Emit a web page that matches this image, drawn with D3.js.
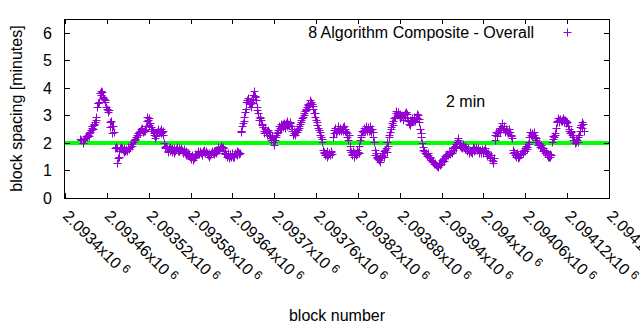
<!DOCTYPE html>
<html><head><meta charset="utf-8">
<script src="https://cdn.jsdelivr.net/npm/d3@7"></script>
<style>body{margin:0;background:#fff}svg{display:block}text{font-family:"Liberation Sans",Arial,sans-serif;fill:#000}</style>
</head><body><svg id="c" width="640" height="330"></svg>
<script>
const blocks = [
2093421,2093426,2093429,2093431,2093433,2093435,2093437,2093439,2093441,2093443,2093445,2093448,2093449,2093450,2093452,2093453,2093454,2093456,2093457,2093459,
2093461,2093462,2093464,2093465,2093467,2093468,2093470,2093472,2093473,2093475,2093476,2093477,2093479,2093481,2093483,2093486,2093488,2093490,2093493,2093496,2093500,
2093502,2093505,2093507,2093510,2093512,2093514,2093516,2093518,2093519,2093522,2093524,2093525,2093527,2093529,2093531,2093534,2093536,2093539,2093540,2093543,2093546,2093548,2093550,2093552,2093555,2093557,2093560,2093562,2093565,
2093567,2093570,2093572,2093575,2093579,2093581,2093584,2093586,2093588,2093590,2093593,2093596,2093598,2093600,2093603,2093605,2093608,2093610,2093612,2093615,2093617,2093620,2093622,2093624,2093627,2093629,2093631,2093634,2093636,2093638,2093641,2093643,2093645,2093648,2093650,
2093652,2093653,2093655,2093656,2093658,2093659,2093660,2093661,2093662,2093664,2093665,2093667,2093669,2093671,2093672,2093673,2093675,2093677,2093679,2093681,2093682,2093684,2093685,2093686,2093688,2093691,2093693,2093696,2093698,2093700,2093702,2093704,2093705,2093708,2093711,
2093713,2093715,2093717,2093720,2093722,2093724,2093726,2093729,2093731,2093734,2093736,2093739,2093741,2093743,2093745,2093748,2093751,2093753,2093755,2093758,2093760,2093762,2093764,2093766,2093767,2093769,2093772,
2093774,2093777,2093779,2093782,2093784,2093786,2093789,2093791,2093794,2093796,2093798,2093801,2093803,2093805,2093808,2093810,2093812,2093815,2093817,2093820,2093822,2093825,2093827,2093829,2093831,2093834,2093836,2093838,2093841,2093843,2093846,2093848,2093850,2093853,2093855,2093858,2093860,2093862,2093864,
2093866,2093867,2093870,2093872,2093875,2093877,2093879,2093882,2093884,2093886,2093889,2093891,2093894,2093896,2093898,2093901,2093903,2093906,2093908,2093910,2093912,2093914,
2093916,2093918,2093920,2093922,2093925,2093927,2093929,2093932,2093934,2093935,2093937,2093940,2093941,2093944,2093946,2093948,2093951,2093953,2093956,2093958,2093960,2093963,2093965,2093968,2093970,2093972,2093975,2093977,2093980,2093982,2093984,2093987,2093989,2093991,2093994,2093996,2093999,2094001,2094003,2094006,2094008,2094010,2094012,2094014,2094015,
2094017,2094020,2094022,2094025,2094027,2094029,2094032,2094034,2094037,2094039,2094041,2094044,2094046,2094049,2094051,2094053,2094056,2094058,2094060,2094063,2094065,2094068,2094070,2094072,2094075,2094077,2094080,2094082,2094084,2094087,2094089,2094091,2094094,2094096,2094098,2094101,2094103,2094106,2094108,2094111,2094113,2094115,2094118,2094120,2094122,2094125,2094127,2094130,2094132,2094134,2094137,2094139,2094141,2094144
];
const spacing = [
2.15,2.0,2.17,2.2,2.29,2.25,2.47,2.6,2.65,2.77,2.93,3.44,3.5,3.81,3.9,3.85,3.68,3.6,3.56,3.3,
3.2,3.14,2.77,2.59,2.62,2.35,2.4,1.81,1.85,1.26,1.44,1.5,1.8,1.78,1.75,1.72,1.75,1.8,1.87,1.9,2.1,
2.2,2.29,2.35,2.47,2.4,2.47,2.6,2.93,2.85,2.74,2.59,2.5,2.35,2.17,2.3,2.47,2.45,2.41,2.3,1.87,1.8,1.68,1.72,1.78,1.75,1.8,1.81,1.7,1.75,
1.81,1.7,1.65,1.6,1.5,1.45,1.38,1.5,1.55,1.62,1.68,1.62,1.7,1.68,1.6,1.55,1.56,1.62,1.65,1.68,1.75,1.8,1.81,1.85,1.87,1.72,1.6,1.56,1.52,1.48,1.5,1.55,1.6,1.68,1.62,
2.41,2.45,2.71,2.8,3.14,3.25,3.5,3.55,3.62,3.45,3.4,3.32,3.6,3.87,3.72,3.68,3.3,3.08,2.95,2.84,2.7,2.59,2.45,2.35,2.4,2.47,2.3,2.17,2.05,1.93,2.2,2.35,2.47,2.55,2.65,
2.59,2.65,2.71,2.7,2.77,2.6,2.45,2.35,2.4,2.47,2.6,2.84,2.95,3.08,3.2,3.38,3.45,3.5,3.35,3.08,2.84,2.65,2.47,2.3,2.23,2.05,1.68,
1.6,1.56,1.62,1.68,2.2,2.47,2.4,2.53,2.5,2.45,2.59,2.5,2.41,2.23,1.9,1.68,1.6,1.62,1.55,1.68,1.9,2.23,2.4,2.47,2.5,2.53,2.45,2.48,2.41,2.05,1.62,1.45,1.38,1.45,1.56,1.7,1.81,2.05,2.29,
2.4,2.5,2.65,2.9,3.08,3.1,3.02,2.95,2.84,3.0,3.14,2.9,2.65,2.75,2.85,2.84,2.95,3.02,2.75,2.35,2.0,1.75,
1.65,1.6,1.56,1.5,1.38,1.3,1.25,1.2,1.15,1.14,1.2,1.3,1.38,1.45,1.56,1.6,1.62,1.68,1.75,1.87,1.95,2.17,2.0,1.87,1.9,1.85,1.81,1.75,1.7,1.68,1.75,1.8,1.81,1.75,1.7,1.68,1.72,1.75,1.68,1.6,1.55,1.5,1.38,1.26,1.45,
2.29,2.35,2.47,2.55,2.71,2.6,2.47,2.45,2.41,2.3,2.17,1.68,1.6,1.55,1.5,1.55,1.65,1.75,1.8,1.87,2.05,2.3,2.35,2.3,2.17,2.05,1.95,1.87,1.8,1.75,1.68,1.55,1.5,1.6,2.05,2.23,2.3,2.75,2.84,2.8,2.85,2.84,2.8,2.77,2.45,2.41,2.3,2.1,2.05,2.1,2.3,2.59,2.77,2.45
];
const extraBlocks = [
2093423,2093427,2093430,2093434,2093436,2093438,2093440,2093442,2093444,2093446,2093447,2093451,2093455,2093458,2093460,2093463,2093466,2093469,2093474,2093478,2093480,2093482,2093484,2093485,2093487,2093489,2093491,2093492,2093495,2093498,2093499,
2093501,2093503,2093504,2093506,2093508,2093509,2093511,2093513,2093515,2093517,2093520,2093521,2093523,2093526,2093528,2093530,2093532,2093533,2093535,2093537,2093538,2093541,2093542,2093544,2093545,2093547,2093549,2093551,2093553,2093554,2093556,2093558,2093559,2093561,2093563,2093564,2093566,
2093568,2093569,2093571,2093573,2093574,2093576,2093577,2093578,2093580,2093582,2093583,2093585,2093587,2093589,2093591,2093592,2093594,2093595,2093597,2093599,2093601,2093602,2093604,2093606,2093607,2093609,2093611,2093613,2093614,2093616,2093618,2093619,2093621,2093623,2093625,2093626,2093628,2093630,2093632,2093633,2093635,2093637,2093639,2093640,2093642,2093644,2093646,2093647,2093649,2093651,
2093654,2093657,2093663,2093666,2093668,2093670,2093674,2093676,2093678,2093680,2093683,2093687,2093689,2093690,2093692,2093694,2093695,2093697,2093699,2093701,2093703,2093706,2093707,2093709,2093710,2093712,
2093714,2093716,2093718,2093719,2093721,2093723,2093725,2093727,2093728,2093730,2093732,2093733,2093735,2093737,2093738,2093740,2093742,2093744,2093746,2093747,2093749,2093750,2093752,2093754,2093756,2093757,2093759,2093761,2093763,2093765,2093768,2093770,2093771,
2093773,2093775,2093776,2093778,2093780,2093781,2093783,2093785,2093787,2093788,2093790,2093792,2093793,2093795,2093797,2093799,2093800,2093802,2093804,2093806,2093807,2093809,2093811,2093813,2093814,2093816,2093818,2093819,2093821,2093823,2093824,2093826,2093828,2093830,2093832,2093833,2093835,2093837,2093839,2093840,2093842,2093844,2093845,2093847,2093849,2093851,2093852,2093854,2093856,2093857,2093859,2093861,2093863,
2093865,2093868,2093869,2093871,2093873,2093874,2093876,2093878,2093880,2093881,2093883,2093885,2093887,2093888,2093890,2093892,2093893,2093895,2093897,2093899,2093900,2093902,2093904,2093905,2093907,2093909,2093911,2093913,2093915,
2093917,2093919,2093921,2093923,2093924,2093926,2093928,2093930,2093931,2093933,2093936,2093938,2093939,2093942,2093943,2093945,2093947,2093949,2093950,2093952,2093954,2093955,2093957,2093959,2093961,2093962,2093964,2093966,2093967,2093969,2093971,2093973,2093974,2093976,2093978,2093979,2093981,2093983,2093985,2093986,2093988,2093990,2093992,2093993,2093995,2093997,2093998,2094000,2094002,2094004,2094005,2094007,2094009,2094011,2094013,
2094016,2094018,2094019,2094021,2094023,2094024,2094026,2094028,2094030,2094031,2094033,2094035,2094036,2094038,2094040,2094042,2094043,2094045,2094047,2094048,2094050,2094052,2094054,2094055,2094057,2094059,2094061,2094062,2094064,2094066,2094067,2094069,2094071,2094073,2094074,2094076,2094078,2094079,2094081,2094083,2094085,2094086,2094088,2094090,2094092,2094093,2094095,2094097,2094099,2094100,2094102,2094104,2094105,2094107,2094109,2094110,2094112,2094114,2094116,2094117,2094119,2094121,2094123,2094124,2094126,2094128,2094129,2094131,2094133,2094135,2094136,2094138,2094140,2094142,2094143
];
const extraSpacing = [
2.1,2.12,2.25,2.35,2.4,2.55,2.5,2.7,2.85,3.3,3.45,3.75,3.62,3.5,3.25,3.2,2.8,2.6,1.8,1.7,1.85,1.82,1.68,1.8,1.78,1.7,1.85,1.78,1.95,2.05,2.12,
2.15,2.3,2.35,2.4,2.45,2.5,2.55,2.45,2.42,2.8,2.9,2.65,2.5,2.45,2.3,2.25,2.4,2.5,2.4,2.35,2.5,2.42,2.0,1.8,1.9,1.72,1.8,1.85,1.68,1.82,1.65,1.72,1.78,1.85,1.8,1.7,1.78,
1.75,1.62,1.78,1.55,1.72,1.65,1.55,1.58,1.42,1.55,1.48,1.45,1.6,1.58,1.7,1.58,1.72,1.65,1.55,1.75,1.62,1.72,1.65,1.5,1.62,1.6,1.7,1.58,1.72,1.62,1.7,1.85,1.75,1.9,1.8,1.82,1.65,1.58,1.5,1.62,1.45,1.58,1.55,1.62,1.48,1.62,1.55,1.72,1.58,1.65,
2.6,2.95,3.55,3.5,3.45,3.75,3.55,3.2,2.85,2.9,2.65,2.5,2.3,2.45,2.4,2.25,2.1,2.25,2.12,2.1,2.3,2.4,2.6,2.7,2.5,2.7,
2.72,2.55,2.62,2.78,2.65,2.72,2.5,2.3,2.42,2.3,2.5,2.38,2.55,2.7,2.75,2.9,3.0,3.15,3.25,3.3,3.42,3.35,3.55,3.4,3.25,3.1,2.95,2.75,2.55,2.4,2.15,1.75,1.62,
1.55,1.7,1.5,1.65,1.55,1.72,1.6,2.35,2.55,2.35,2.45,2.6,2.42,2.55,2.52,2.42,2.62,2.45,2.35,2.1,2.28,1.75,1.55,1.72,1.5,1.65,1.6,1.75,1.62,2.1,2.3,2.45,2.55,2.42,2.6,2.45,2.58,2.6,2.38,2.52,2.2,1.75,1.55,1.5,1.42,1.3,1.5,1.52,1.62,1.5,1.75,1.68,1.9,
2.2,2.58,2.72,2.8,2.95,3.15,3.02,3.12,3.05,2.9,3.0,2.92,3.1,2.95,3.05,2.8,2.7,2.85,2.9,2.78,2.95,2.8,3.05,2.9,2.88,2.5,2.2,1.85,1.72,
1.62,1.52,1.62,1.45,1.48,1.35,1.32,1.22,1.28,1.18,1.22,1.25,1.22,1.42,1.35,1.52,1.48,1.55,1.7,1.6,1.72,1.65,1.8,1.9,1.82,2.05,2.1,1.9,1.95,1.8,1.95,1.78,1.88,1.72,1.82,1.65,1.75,1.62,1.85,1.72,1.75,1.85,1.8,1.62,1.75,1.62,1.78,1.65,1.8,1.72,1.52,1.62,1.45,1.55,1.35,
2.1,2.4,2.25,2.38,2.55,2.4,2.62,2.5,2.55,2.4,2.52,2.35,2.5,2.4,2.25,1.75,1.62,1.55,1.5,1.62,1.45,1.6,1.58,1.72,1.62,1.72,1.9,1.78,1.95,2.2,2.38,2.25,2.28,2.38,2.22,2.1,1.92,2.0,1.85,1.92,1.72,1.82,1.62,1.72,1.5,1.58,1.48,1.55,2.15,2.25,2.35,2.55,2.8,2.9,2.75,2.88,2.78,2.9,2.75,2.85,2.72,2.6,2.5,2.35,2.45,2.2,2.12,2.0,2.15,2.05,2.2,2.45,2.65,2.55,2.7
];
const xTickValues = [2093400,2093460,2093520,2093580,2093640,2093700,2093760,2093820,2093880,2093940,2094000,2094060,2094120,2094180];
const xTickLabels = ["2.0934","2.09346","2.09352","2.09358","2.09364","2.0937","2.09376","2.09382","2.09388","2.09394","2.094","2.09406","2.09412","2.09418"];
const xTickExponent = "6";
const yTickValues = [0,1,2,3,4,5,6];
const yDomain = [0, 6.5];
const targetSpacing = 2;
const seriesName = "8 Algorithm Composite - Overall";
const annotationText = "2 min";
const xTitle = "block number";
const yTitle = "block spacing [minutes]";

const svg = d3.select("#c");
const L = 65, R = 609, T = 19, B = 198;
const x = d3.scaleLinear().domain([xTickValues[0], xTickValues[xTickValues.length-1]]).range([L, R]);
const y = d3.scaleLinear().domain(yDomain).range([B, T]);
const purple = "#9400d3";
const FS = 16;

// target line
svg.append("line").attr("x1", L).attr("x2", R)
  .attr("y1", y(targetSpacing)).attr("y2", y(targetSpacing))
  .attr("stroke", "#00ff00").attr("stroke-width", 4);

// points
const h = 4;
const allB = blocks.concat(extraBlocks);
const allS = spacing.concat(extraSpacing);
const pts = allB.map((b, i) => [Math.round(x(b)) + 0.5, Math.round(y(allS[i])) + 0.5]);
svg.append("path")
  .attr("d", pts.map(([px, py]) => `M${px-h},${py}H${px+h}M${px},${py-h}V${py+h}`).join(""))
  .attr("stroke", purple).attr("stroke-width", 1).attr("fill", "none");

// frame
svg.append("rect").attr("x", L - 0.5).attr("y", T + 0.5).attr("width", R - L + 1).attr("height", B - T)
  .attr("fill", "none").attr("stroke", "#000").attr("stroke-width", 1);

// axes ticks
const tk = 5;
const g = svg.append("g").attr("stroke", "#000").attr("stroke-width", 1);
xTickValues.forEach(v => {
  const px = Math.round(x(v)) + 0.5;
  g.append("line").attr("x1", px).attr("x2", px).attr("y1", B).attr("y2", B - tk);
  g.append("line").attr("x1", px).attr("x2", px).attr("y1", T).attr("y2", T + tk);
});
yTickValues.forEach(v => {
  const py = Math.round(y(v)) + 0.5;
  g.append("line").attr("x1", L).attr("x2", L + tk).attr("y1", py).attr("y2", py);
  g.append("line").attr("x1", R).attr("x2", R - tk).attr("y1", py).attr("y2", py);
});

// y tick labels
yTickValues.forEach(v => {
  svg.append("text").attr("x", 52).attr("y", y(v) + 6)
    .attr("text-anchor", "end").attr("font-size", FS).text(v);
});

// x tick labels rotated
xTickValues.forEach((v, i) => {
  const px = x(v);
  const t = svg.append("text")
    .attr("transform", `translate(${px - 3},${217}) rotate(45)`)
    .attr("font-size", FS);
  t.append("tspan").text(xTickLabels[i] + "x10");
  t.append("tspan").attr("dx", 4).attr("dy", -5).attr("font-size", 12).text(xTickExponent);
});

// axis titles
svg.append("text").attr("x", (L + R) / 2).attr("y", 321).attr("text-anchor", "middle")
  .attr("font-size", FS).text(xTitle);
svg.append("text").attr("transform", `translate(22,${(T + B) / 2}) rotate(-90)`)
  .attr("text-anchor", "middle").attr("font-size", FS).text(yTitle);

// legend
svg.append("text").attr("x", 534).attr("y", 38).attr("text-anchor", "end")
  .attr("font-size", FS).text(seriesName);
svg.append("path").attr("d", `M${567.5-h},32.5H${567.5+h}M567.5,${32.5-h}V${32.5+h}`)
  .attr("stroke", purple).attr("stroke-width", 1);

// annotation
svg.append("text").attr("x", 446).attr("y", 107).attr("font-size", FS).text(annotationText);
</script>
</body></html>
